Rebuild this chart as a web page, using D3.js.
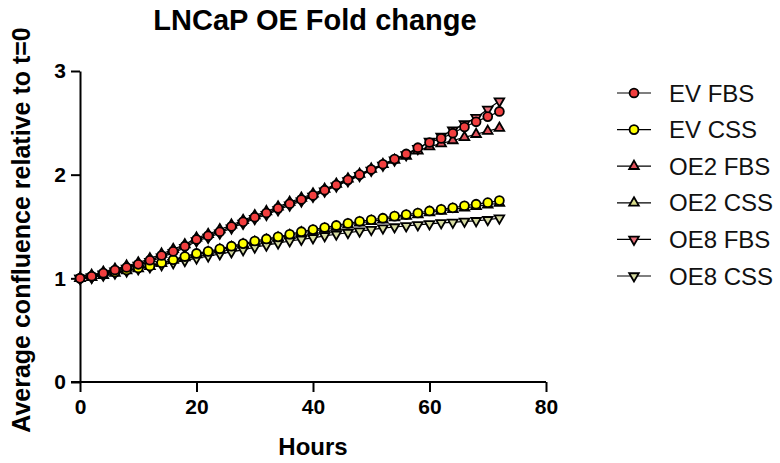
<!DOCTYPE html>
<html>
<head>
<meta charset="utf-8">
<script src="https://cdn.jsdelivr.net/npm/d3@7"></script>
<style>
  body { margin: 0; background: #fff; }
  text { font-family: Arial, "Liberation Sans", sans-serif; }
</style>
</head>
<body>
<div id="chart"></div>
<script>
// hours sampled every 2 h
var hours = [0,2,4,6,8,10,12,14,16,18,20,22,24,26,28,30,32,34,36,38,40,42,44,46,48,50,52,54,56,58,60,62,64,66,68,70,72];

var evFbs  = [1.00,1.02,1.05,1.08,1.105,1.135,1.175,1.22,1.26,1.31,1.375,1.41,1.45,1.50,1.545,1.59,1.63,1.675,1.72,1.76,1.80,1.85,1.90,1.95,2.00,2.05,2.10,2.15,2.20,2.26,2.31,2.35,2.40,2.46,2.51,2.56,2.61];
var evCss  = [1.00,1.02,1.04,1.06,1.08,1.10,1.12,1.15,1.18,1.21,1.24,1.26,1.285,1.31,1.335,1.36,1.38,1.40,1.425,1.45,1.47,1.49,1.51,1.53,1.55,1.565,1.58,1.60,1.615,1.63,1.65,1.665,1.68,1.70,1.715,1.73,1.75];
var oe2Fbs = [1.00,1.03,1.06,1.09,1.12,1.15,1.19,1.235,1.28,1.325,1.39,1.425,1.47,1.515,1.56,1.605,1.645,1.69,1.735,1.775,1.815,1.86,1.91,1.96,2.005,2.055,2.10,2.14,2.18,2.23,2.27,2.30,2.33,2.36,2.39,2.42,2.45];
var oe2Css = [1.00,1.01,1.03,1.05,1.075,1.095,1.115,1.145,1.175,1.20,1.23,1.25,1.275,1.30,1.325,1.35,1.37,1.39,1.415,1.44,1.455,1.475,1.495,1.515,1.535,1.55,1.565,1.585,1.60,1.615,1.635,1.65,1.665,1.68,1.695,1.71,1.725];
var oe8Fbs = [1.00,1.01,1.04,1.07,1.095,1.125,1.16,1.205,1.245,1.295,1.36,1.395,1.435,1.485,1.53,1.575,1.615,1.66,1.705,1.745,1.79,1.84,1.89,1.94,1.99,2.04,2.09,2.14,2.19,2.25,2.32,2.37,2.43,2.49,2.55,2.63,2.71];
var oe8Css = [1.00,1.01,1.03,1.05,1.07,1.09,1.11,1.13,1.15,1.17,1.195,1.215,1.235,1.255,1.275,1.30,1.32,1.34,1.36,1.375,1.39,1.41,1.425,1.44,1.455,1.47,1.485,1.495,1.505,1.515,1.525,1.535,1.54,1.55,1.555,1.565,1.58];

var seriesNames = ["EV FBS","EV CSS","OE2 FBS","OE2 CSS","OE8 FBS","OE8 CSS"];
var seriesValues = [evFbs, evCss, oe2Fbs, oe2Css, oe8Fbs, oe8Css];
var seriesShape = ["circle","circle","up","up","down","down"];
var seriesFill = ["#f23f3f","#ffff00","#e0505a","#d9dc8c","#e8707a","#d6dba0"];

var xTicks = [0,20,40,60,80];
var yTicks = [0,1,2,3];

var width = 780, height = 463;
var svg = d3.select("#chart").append("svg")
    .attr("width", width)
    .attr("height", height);

var x = d3.scaleLinear().domain([0, 80]).range([80, 546]),
    y = d3.scaleLinear().domain([0, 3]).range([382, 71]);

// title
svg.append("text")
  .attr("x", 315).attr("y", 30)
  .attr("text-anchor", "middle")
  .attr("font-size", 29).attr("font-weight", "bold")
  .text("LNCaP OE Fold change");

// axes
var xAxis = svg.append("g")
  .attr("transform", "translate(0," + y(0) + ")")
  .call(d3.axisBottom(x).tickValues(xTicks).tickSize(10).tickSizeOuter(0).tickPadding(7));
var yAxis = svg.append("g")
  .attr("transform", "translate(" + x(0) + ",0)")
  .call(d3.axisLeft(y).tickValues(yTicks).tickFormat(d3.format("d")).tickSize(9).tickSizeOuter(0).tickPadding(5));

[xAxis, yAxis].forEach(function(a) {
  a.select(".domain").attr("stroke", "#000").attr("stroke-width", 2);
  a.selectAll(".tick line").attr("stroke", "#000").attr("stroke-width", 2);
  a.selectAll(".tick text").attr("font-size", 21).attr("font-weight", "bold")
    .attr("fill", "#000").style("font-family", "Arial, 'Liberation Sans', sans-serif");
});
// extend x domain to the left so it crosses the y axis, like the original
xAxis.select(".domain").attr("d", "M" + (x(0) - 9) + ",0H" + x(80));

svg.append("text")
  .attr("x", 313).attr("y", 455)
  .attr("text-anchor", "middle")
  .attr("font-size", 24).attr("font-weight", "bold")
  .text("Hours");

svg.append("text")
  .attr("transform", "translate(30," + 230 + ") rotate(-90)")
  .attr("text-anchor", "middle")
  .attr("font-size", 25).attr("font-weight", "bold")
  .text("Average confluence relative to t=0");

function symbolFor(shape) {
  if (shape === "circle") return d3.symbol().type(d3.symbolCircle).size(62)();
  return d3.symbol().type(d3.symbolTriangle).size(40)();
}

var line = d3.line()
    .x(function(d) { return x(d[0]); })
    .y(function(d) { return y(d[1]); });

// draw OE8 first so EV sits on top
for (var s = seriesNames.length - 1; s >= 0; s--) {
  var pts = hours.map(function(h, i) { return [h, seriesValues[s][i]]; });
  var g = svg.append("g");
  g.append("path")
    .datum(pts)
    .attr("fill", "none")
    .attr("stroke", "#000")
    .attr("stroke-width", 1.2)
    .attr("d", line);
  var shape = seriesShape[s];
  g.selectAll(".pt")
    .data(pts)
    .enter()
    .append("path")
    .attr("d", symbolFor(shape))
    .attr("transform", function(d) {
      return "translate(" + x(d[0]) + "," + y(d[1]) + ")" + (shape === "down" ? " rotate(180)" : "");
    })
    .attr("fill", seriesFill[s])
    .attr("stroke", "#000")
    .attr("stroke-width", 1.8);
}

// legend
var legend = svg.append("g");
seriesNames.forEach(function(name, i) {
  var ly = 93 + i * 36.6;
  var row = legend.append("g").attr("transform", "translate(0," + ly + ")");
  row.append("line")
    .attr("x1", 617).attr("x2", 651)
    .attr("stroke", "#000").attr("stroke-width", 1.2);
  row.append("path")
    .attr("d", symbolFor(seriesShape[i]))
    .attr("transform", "translate(634,0)" + (seriesShape[i] === "down" ? " rotate(180)" : ""))
    .attr("fill", seriesFill[i])
    .attr("stroke", "#000").attr("stroke-width", 1.8);
  row.append("text")
    .attr("x", 669).attr("y", 0)
    .attr("dy", "0.36em")
    .attr("font-size", 24)
    .attr("fill", "#111")
    .text(name);
});
</script>
</body>
</html>
